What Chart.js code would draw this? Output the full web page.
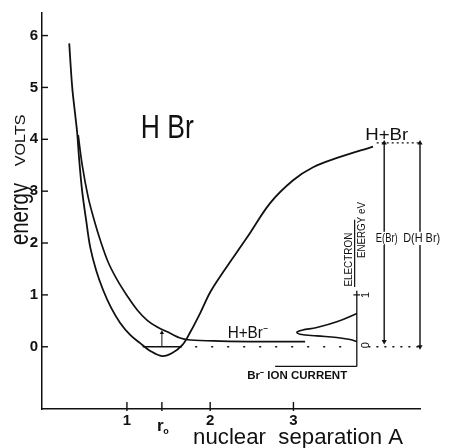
<!DOCTYPE html>
<html>
<head>
<meta charset="utf-8">
<script src="https://cdn.jsdelivr.net/npm/chart.js@4"></script>
<style>
  html, body { margin: 0; padding: 0; background: #fff; }
</style>
</head>
<body>
<canvas id="hbr" width="451" height="448"></canvas>
<script>
// potential energy curves (R in A, energy in volts)
const groundR = [0.307, 0.343, 0.379, 0.403, 0.427, 0.463, 0.511, 0.559, 0.631, 0.715, 0.811, 0.919, 1.039, 1.159, 1.280, 1.424, 1.544, 1.664, 1.760, 1.880, 2.000, 2.156, 2.444, 2.720, 2.996, 3.236, 3.524, 3.956];
const groundE = [5.85, 5.00, 4.47, 4.12, 3.60, 2.99, 2.43, 1.92, 1.47, 1.09, 0.75, 0.46, 0.23, 0.07, -0.08, -0.18, -0.12, 0.03, 0.28, 0.65, 1.05, 1.44, 2.11, 2.77, 3.21, 3.46, 3.64, 3.86];
const anionR = [0.415, 0.463, 0.535, 0.607, 0.679, 0.775, 0.883, 1.004, 1.124, 1.244, 1.364, 1.520, 1.640, 1.760, 2.120, 2.600, 3.140];
const anionE = [4.08, 3.50, 2.88, 2.44, 2.06, 1.63, 1.29, 0.98, 0.71, 0.51, 0.38, 0.26, 0.17, 0.13, 0.11, 0.10, 0.10];
// Br- ion current peak, drawn sideways against the electron energy scale
const ionR = [3.761, 3.521, 3.281, 3.101, 3.041, 3.080, 3.281, 3.521, 3.681, 3.761];
const ionE = [0.64, 0.48, 0.37, 0.32, 0.28, 0.24, 0.21, 0.18, 0.14, 0.10];

const yTicks = [0, 1, 2, 3, 4, 5, 6];
const xTicks = [1, 2, 3];
const r0 = 1.42;
const levelHBr = 3.93;     // H + Br
const levelAnion = 0.10;   // H + Br-
const zeroLevel = 0;

const ink = '#111';
const pts = (xs, ys) => xs.map((x, i) => ({ x: x, y: ys[i] }));
const seg = (x1, y1, x2, y2) => [{ x: x1, y: y1 }, { x: x2, y: y2 }];

function refLine(data, extra) {
  return Object.assign({
    data: data, showLine: true, borderColor: ink, borderWidth: 1.5,
    pointRadius: 0, clip: false, tension: 0
  }, extra || {});
}

const arrowBoth = { pointStyle: 'triangle', pointRadius: 3, pointRotation: [0, 180], pointBackgroundColor: ink, pointBorderWidth: 0 };

const datasets = [
  refLine(pts(groundR, groundE), { borderWidth: 1.8, tension: 0.35 }),
  refLine(pts(anionR, anionE), { borderWidth: 1.7, tension: 0.35 }),
  refLine(pts(ionR, ionE), { borderWidth: 1.6, tension: 0.4 }),
  refLine(seg(1.19, zeroLevel, 1.66, zeroLevel), { borderWidth: 1.3 }),
  refLine(seg(r0, zeroLevel, r0, 0.27), { borderWidth: 1, pointStyle: 'triangle', pointRadius: [0, 2.5], pointBackgroundColor: ink, pointBorderWidth: 0 }),
  refLine(seg(1.82, zeroLevel, 3.74, zeroLevel), { borderWidth: 1.7, borderDash: [2, 14] }),
  refLine(seg(3.90, zeroLevel, 4.52, zeroLevel), { borderWidth: 1.5, borderDash: [2, 6] }),
  refLine(seg(4.0, levelHBr, 4.52, levelHBr), { borderWidth: 1.2, borderDash: [2, 3] }),
  refLine(seg(4.09, levelHBr, 4.09, levelAnion), Object.assign({ borderWidth: 1.4 }, arrowBoth)),
  refLine(seg(4.52, levelHBr, 4.52, zeroLevel), Object.assign({ borderWidth: 1.4 }, arrowBoth)),
  // electron energy scale and ion current baseline
  refLine(seg(3.761, -0.38, 3.761, 1.08), { borderWidth: 1.3 }),
  refLine(seg(2.78, -0.38, 3.761, -0.38), { borderWidth: 1.3 }),
  refLine(seg(3.72, 1, 3.80, 1), { borderWidth: 1.2 }),
  refLine(seg(3.735, 1.15, 3.735, 2.45), { borderWidth: 1.2 })
];

// text placed in data coordinates; w = target width in px
const labels = [
  { text: 'H Br', x: 1.484, y: 4.21, size: 34, w: 53 },
  { text: 'H+Br', x: 4.12, y: 4.08, size: 16, w: 43 },
  { text: 'H+Br\u207B', x: 2.45, y: 0.245, size: 16, w: 40 },
  { text: 'E(Br)', x: 4.12, y: 2.09, size: 12, w: 22, bg: true },
  { text: 'D(H Br)', x: 4.54, y: 2.09, size: 12, w: 37, bg: true },
  { text: 'ELECTRON', x: 3.67, y: 1.68, size: 11, w: 54, rot: -Math.PI / 2 },
  { text: 'ENERGY eV', x: 3.82, y: 2.25, size: 11, w: 56, rot: -Math.PI / 2 },
  { text: '1', x: 3.87, y: 1.0, size: 11, rot: -Math.PI / 2 },
  { text: '0', x: 3.87, y: 0.03, size: 11, rot: -Math.PI / 2 },
  { text: 'Br\u207B ION CURRENT', x: 3.045, y: -0.565, size: 11, w: 100, bold: true },
  { text: 'r', x: 1.40, y: -1.54, size: 17, bold: true },
  { text: 'o', x: 1.47, y: -1.63, size: 9, bold: true },
  { text: 'nuclear  separation A', x: 3.056, y: -1.76, size: 22, w: 210 },
  { text: 'energy', x: -0.27, y: 2.56, size: 26, w: 62, rot: -Math.PI / 2 },
  { text: 'VOLTS', x: -0.27, y: 3.98, size: 14, w: 52, rot: -Math.PI / 2 }
];

const decor = {
  id: 'decor',
  afterDraw(chart) {
    const ctx = chart.ctx;
    const xs = chart.scales.x, ys = chart.scales.y;
    ctx.save();
    ctx.strokeStyle = ink;
    ctx.lineWidth = 1.4;
    // inward tick marks
    yTicks.forEach(v => {
      const py = ys.getPixelForValue(v);
      ctx.beginPath(); ctx.moveTo(xs.left, py); ctx.lineTo(xs.left + 6, py); ctx.stroke();
    });
    xTicks.concat([r0]).forEach(v => {
      const px = xs.getPixelForValue(v);
      ctx.beginPath(); ctx.moveTo(px, ys.bottom - 7); ctx.lineTo(px, ys.bottom + 2); ctx.stroke();
    });
    labels.forEach(L => {
      const px = xs.getPixelForValue(L.x), py = ys.getPixelForValue(L.y);
      ctx.save();
      ctx.translate(px, py);
      if (L.rot) ctx.rotate(L.rot);
      ctx.font = (L.bold ? 'bold ' : '') + L.size + 'px "Liberation Sans", Arial, sans-serif';
      const nat = ctx.measureText(L.text).width;
      const w = L.w || nat;
      if (L.bg) {
        ctx.fillStyle = '#fff';
        ctx.fillRect(-w / 2 - 1, -L.size * 0.55, w + 2, L.size * 1.1);
      }
      ctx.scale(w / nat, 1);
      ctx.fillStyle = ink;
      ctx.textAlign = 'center';
      ctx.textBaseline = 'middle';
      ctx.fillText(L.text, 0, 0);
      ctx.restore();
    });
    ctx.restore();
  }
};

new Chart(document.getElementById('hbr'), {
  type: 'scatter',
  data: { datasets: datasets },
  options: {
    responsive: false,
    animation: false,
    layout: { padding: { top: 13, right: 31, left: 0, bottom: 0 } },
    plugins: { legend: { display: false }, tooltip: { enabled: false } },
    scales: {
      x: {
        type: 'linear', min: -0.02, max: 4.52,
        afterFit: s => { s.height = 39; },
        afterBuildTicks: s => { s.ticks = xTicks.map(v => ({ value: v })); },
        grid: { display: false, drawTicks: false },
        border: { display: true, color: ink, width: 1.5 },
        ticks: { autoSkip: false, maxRotation: 0, padding: 3, color: ink,
                 font: { family: 'Liberation Sans', size: 15, weight: 'bold' } }
      },
      y: {
        type: 'linear', min: -1.2, max: 6.435,
        afterFit: s => { s.width = 42; },
        afterBuildTicks: s => { s.ticks = yTicks.map(v => ({ value: v })); },
        grid: { display: false, drawTicks: false },
        border: { display: true, color: ink, width: 1.5 },
        ticks: { padding: 4, color: ink,
                 font: { family: 'Liberation Sans', size: 15, weight: 'bold' } }
      }
    }
  },
  plugins: [decor]
});
</script>
</body>
</html>
